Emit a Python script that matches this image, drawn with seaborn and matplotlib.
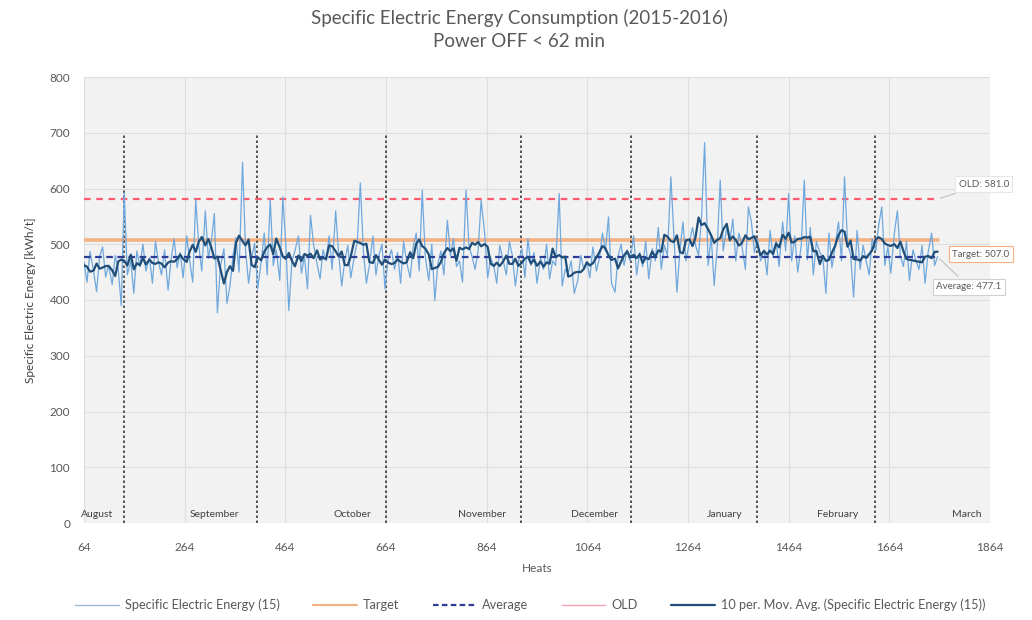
import numpy as np
import pandas as pd
import matplotlib
matplotlib.use("Agg")
import matplotlib.pyplot as plt
import seaborn as sns
from matplotlib.lines import Line2D

# ---------------- data ----------------
HEAT_FIRST = 64
HEAT_LAST = 1760
energy = [
    468, 432, 487, 452, 415, 478, 495, 441, 462, 428,
    480, 455, 390, 592, 445, 470, 412, 488, 460, 500,
    452, 476, 430, 505, 468, 445, 490, 418, 472, 510,
    458, 485, 440, 515, 470, 432, 580, 498, 452, 560,
    475, 505, 555, 377, 460, 492, 394, 425, 480, 512,
    450, 647, 488, 430, 475, 502, 420, 468, 520, 445,
    580, 462, 490, 435, 585, 498, 381, 470, 488, 515,
    448, 478, 420, 552, 500, 465, 438, 490, 470, 515,
    455, 560, 482, 425, 470, 498, 440, 478, 505, 610,
    488, 430, 462, 515, 445, 480, 500, 420, 472, 490,
    455, 485, 430, 505, 468, 440, 495, 520, 452, 597,
    478, 435, 500, 399, 465, 488, 445, 543, 480, 510,
    460, 470, 432, 597, 495, 478, 455, 488, 579, 520,
    440, 475, 462, 430, 498, 470, 445, 505, 480, 425,
    468, 492, 440, 510, 462, 485, 430, 475, 455, 500,
    438, 470, 462, 591, 425, 455, 448, 470, 412, 435,
    480, 455, 468, 440, 495, 452, 475, 520, 488, 549,
    430, 414, 478, 500, 462, 490, 470, 515, 445, 485,
    460, 505, 438, 492, 470, 530, 455, 498, 480, 621,
    515, 414, 490, 540, 470, 505, 530, 498, 480, 550,
    682, 462, 515, 426, 495, 615, 488, 530, 505, 545,
    470, 520, 498, 455, 567, 540, 485, 510, 470, 490,
    445, 525, 478, 505, 460, 540, 488, 591, 470, 515,
    450, 498, 615, 472, 530, 445, 505, 485, 475, 412,
    520, 458, 495, 540, 470, 621, 500, 482, 405, 525,
    455, 498, 470, 445, 510, 488, 535, 567, 462, 495,
    448, 520, 560, 478, 460, 505, 435, 490, 470, 455,
    498, 430, 485, 520, 462, 478,
]
heats = np.linspace(HEAT_FIRST, HEAT_LAST, len(energy)).round()

target_value = 507.0
average_value = 477.1
old_value = 581.0

month_names = ["August", "September", "October", "November", "December",
               "January", "February", "March"]
month_label_x = [90, 324, 598, 854, 1079, 1337, 1562, 1818]
month_bounds = [143, 408, 664, 932, 1150, 1401, 1635]

x_ticks = [64, 264, 464, 664, 864, 1064, 1264, 1464, 1664, 1864]
y_ticks = [0, 100, 200, 300, 400, 500, 600, 700, 800]

title = "Specific Electric Energy Consumption (2015-2016)\nPower OFF < 62 min"
x_label = "Heats"
y_label = "Specific Electric Energy [kWh/t]"
legend_labels = ["Specific Electric Energy (15)", "Target", "Average", "OLD",
                 "10 per. Mov. Avg. (Specific Electric Energy (15))"]

# ---------------- style ----------------
sns.set_theme(style="whitegrid")
plt.rcParams["font.family"] = ["Lato", "DejaVu Sans"]
txt_col = "#595959"

c_raw = "#6fa8dc"
c_ma = "#1f4e79"
c_target = "#f4b183"
c_avg = "#2f3d9a"
c_old = "#ff5a6e"

fig = plt.figure(figsize=(10.32, 6.2), dpi=100)
ax = fig.add_axes([84 / 1032, 1 - 523 / 620, (990 - 84) / 1032, (523 - 77) / 620])
ax.set_facecolor("#f2f2f2")
for s in ax.spines.values():
    s.set_visible(False)
ax.grid(True, color="#dedede", linewidth=0.8)

df = pd.DataFrame({"heat": heats, "energy": energy})
df["ma"] = df["energy"].rolling(5, center=True, min_periods=1).mean()

# reference lines
ref_x = [HEAT_FIRST, HEAT_LAST]
ax.plot(ref_x, [target_value] * 2, color=c_target, lw=2.6, zorder=2)
ax.plot(ref_x, [old_value] * 2, color=c_old, lw=1.6, dashes=(3, 2.5), zorder=2)

# month separators
for b in month_bounds:
    ax.plot([b, b], [0, 700], color="#3a3a3a", lw=1.2, dashes=(1.5, 1.5), zorder=3)

sns.lineplot(data=df, x="heat", y="energy", ax=ax, color=c_raw, lw=0.9,
             estimator=None, sort=False, zorder=4)
ax.plot(ref_x, [average_value] * 2, color=c_avg, lw=1.6, dashes=(3, 2), zorder=5)
sns.lineplot(data=df, x="heat", y="ma", ax=ax, color=c_ma, lw=1.6,
             estimator=None, sort=False, zorder=6)

for name, mx in zip(month_names, month_label_x):
    ax.text(mx, 16, name, ha="center", va="center", fontsize=7.5, color="#404040", zorder=7)

# annotations
ax.annotate(f"OLD: {old_value:.1f}", xy=(HEAT_LAST, old_value), xytext=(1852, 608),
            ha="center", va="center", fontsize=7, color=txt_col,
            bbox=dict(boxstyle="square,pad=0.35", fc="white", ec="#e6e6e6", lw=0.8),
            arrowprops=dict(arrowstyle="-", color="#bfbfbf", lw=0.8), annotation_clip=False)
ax.annotate(f"Target: {target_value:.1f}", xy=(HEAT_LAST, target_value), xytext=(1846, 482),
            ha="center", va="center", fontsize=7, color=txt_col,
            bbox=dict(boxstyle="square,pad=0.35", fc="white", ec="#f4b183", lw=0.8),
            annotation_clip=False)
ax.annotate(f"Average: {average_value:.1f}", xy=(HEAT_LAST, average_value), xytext=(1822, 424),
            ha="center", va="center", fontsize=7, color=txt_col,
            bbox=dict(boxstyle="square,pad=0.35", fc="white", ec="#d0d0d0", lw=0.8),
            arrowprops=dict(arrowstyle="-", color="#bfbfbf", lw=0.8), annotation_clip=False)

ax.set_xlim(x_ticks[0], x_ticks[-1])
ax.set_ylim(y_ticks[0], y_ticks[-1])
ax.set_xticks(x_ticks)
ax.set_yticks(y_ticks)
ax.tick_params(axis="x", pad=14, labelsize=8.5, colors=txt_col, length=0)
ax.tick_params(axis="y", pad=10, labelsize=8.5, colors=txt_col, length=0)
ax.set_xlabel(x_label, fontsize=8.5, color=txt_col, labelpad=7)
ax.set_ylabel(y_label, fontsize=8.5, color="#404040", labelpad=10)

fig.text(0.503, 1 - 9 / 620, title, ha="center", va="top", fontsize=13.5,
         color=txt_col, linespacing=1.45)

handles = [
    Line2D([], [], color="#9fb9d6", lw=1.0),
    Line2D([], [], color=c_target, lw=1.6),
    Line2D([], [], color=c_avg, lw=1.6, dashes=(2.5, 1.5)),
    Line2D([], [], color="#f4a0b0", lw=1.0),
    Line2D([], [], color=c_ma, lw=1.6),
]
fig.legend(handles, legend_labels, loc="center", bbox_to_anchor=(0.514, 1 - 605 / 620),
           ncol=5, frameon=False, fontsize=9.2, labelcolor=txt_col,
           handlelength=3.4, columnspacing=2.6, handletextpad=0.5)

fig.savefig("out.png", dpi=100)
